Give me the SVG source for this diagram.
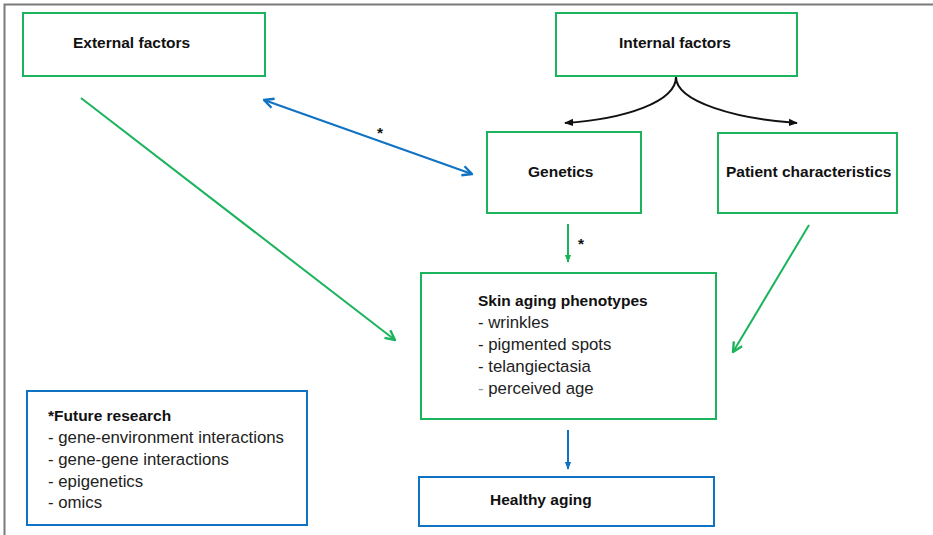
<svg xmlns="http://www.w3.org/2000/svg" width="933" height="535" viewBox="0 0 933 535">
<style>
.g{fill:#fff;stroke:#1bb35c;stroke-width:2}
.b{fill:#fff;stroke:#0f72c3;stroke-width:2}
.t{font-family:"Liberation Sans",Arial,sans-serif;font-size:15.5px;fill:#111}
.bold{font-weight:bold}
.l{fill:#222;font-size:16.8px}
.cg{stroke:#1bb35c;stroke-width:2;fill:none}
.cb{stroke:#0f72c3;stroke-width:2;fill:none}
.ck{stroke:#111;stroke-width:2;fill:none}
</style>
<defs>
<marker id="ab" viewBox="0 0 10 10" refX="9" refY="5" markerWidth="12" markerHeight="12" orient="auto-start-reverse" markerUnits="userSpaceOnUse"><path d="M1,1 L9,5 L1,9" fill="none" stroke="#0f72c3" stroke-width="2"/></marker>
<marker id="agl" viewBox="0 0 10 10" refX="9" refY="5" markerWidth="12" markerHeight="12" orient="auto" markerUnits="userSpaceOnUse"><path d="M1,1 L9,5 L1,9" fill="none" stroke="#1bb35c" stroke-width="2"/></marker>
<marker id="ak" viewBox="0 0 10 10" refX="9" refY="5" markerWidth="9" markerHeight="9" orient="auto" markerUnits="userSpaceOnUse"><path d="M0,1 L10,5 L0,9 Z" fill="#111"/></marker>
<marker id="abs" viewBox="0 0 10 10" refX="9" refY="5" markerWidth="8" markerHeight="8" orient="auto" markerUnits="userSpaceOnUse"><path d="M0,1 L10,5 L0,9 Z" fill="#0f72c3"/></marker>
<marker id="ags" viewBox="0 0 10 10" refX="9" refY="5" markerWidth="8" markerHeight="8" orient="auto" markerUnits="userSpaceOnUse"><path d="M0,1 L10,5 L0,9 Z" fill="#1bb35c"/></marker>
</defs>
<rect width="933" height="535" fill="#fff"/>
<path d="M4.5,535 V4.5 H933" fill="none" stroke="#7a7a7a" stroke-width="2"/>

<g id="external"><rect class="g" x="23" y="13" width="242" height="63"/><text class="t bold" x="73" y="48">External factors</text></g>
<g id="internal"><rect class="g" x="556" y="13" width="241" height="63"/><text class="t bold" x="619" y="48">Internal factors</text></g>
<g id="genetics"><rect class="g" x="487" y="132" width="154" height="81"/><text class="t bold" x="528" y="177">Genetics</text></g>
<g id="patient"><rect class="g" x="718" y="133" width="179" height="80"/><text class="t bold" x="726" y="177">Patient characteristics</text></g>
<g id="phenotypes"><rect class="g" x="421" y="273" width="295" height="146"/>
<text class="t bold" x="478" y="306">Skin aging phenotypes</text>
<text class="t l" x="478" y="328">- wrinkles</text>
<text class="t l" x="478" y="350">- pigmented spots</text>
<text class="t l" x="478" y="372">- telangiectasia</text>
<text class="t l" x="478" y="394"><tspan fill="#999">-</tspan> perceived age</text></g>
<g id="healthy"><rect class="b" x="419" y="477" width="295" height="49"/><text class="t bold" x="490" y="505">Healthy aging</text></g>
<g id="future"><rect class="b" x="27" y="391" width="280" height="134"/>
<text class="t bold" x="48" y="421">*Future research</text>
<text class="t l" x="48" y="443">- gene-environment interactions</text>
<text class="t l" x="48" y="465">- gene-gene interactions</text>
<text class="t l" x="48" y="487">- epigenetics</text>
<text class="t l" x="48" y="508">- omics</text></g>

<g id="connectors">
<path class="ck" d="M676,77 C676,102 625,119 565,123" marker-end="url(#ak)"/>
<path class="ck" d="M676,77 C676,102 737,119 797,123" marker-end="url(#ak)"/>
<path class="cb" d="M264,100 L472,174" marker-start="url(#ab)" marker-end="url(#ab)"/>
<text class="t bold" x="377" y="138" font-size="14">*</text>
<path class="cg" d="M81,98 L395,340" marker-end="url(#agl)"/>
<path class="cg" d="M568,224 L568,262" marker-end="url(#ags)"/>
<text class="t bold" x="578" y="249" font-size="14">*</text>
<path class="cg" d="M809,225 L733,352" marker-end="url(#agl)"/>
<path class="cb" d="M568,430 L568,469" marker-end="url(#abs)"/>
</g>
</svg>
